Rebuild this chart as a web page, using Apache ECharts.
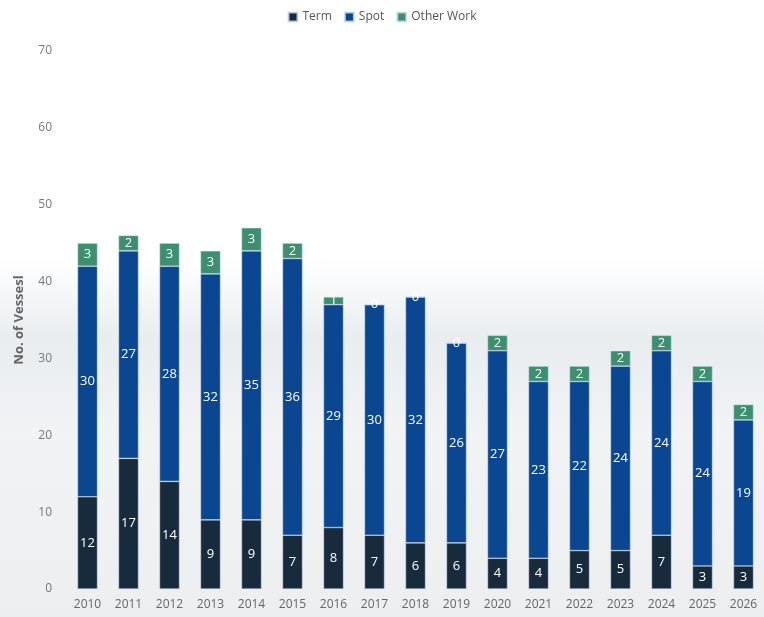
<!DOCTYPE html>
<html>
<head>
<meta charset="utf-8">
<script src="https://cdn.jsdelivr.net/npm/echarts@6/dist/echarts.min.js"></script>
<style>
  html, body { margin: 0; padding: 0; background: #ffffff; }
  #chart { width: 764px; height: 617px; }
</style>
</head>
<body>
<div id="chart"></div>
<script>
// Vessel counts per year, split by contract type
const years = ['2010','2011','2012','2013','2014','2015','2016','2017','2018','2019','2020','2021','2022','2023','2024','2025','2026'];
const termVessels  = [12, 17, 14, 9, 9, 7, 8, 7, 6, 6, 4, 4, 5, 5, 7, 3, 3];
const spotVessels  = [30, 27, 28, 32, 35, 36, 29, 30, 32, 26, 27, 23, 22, 24, 24, 24, 19];
const otherVessels = [3, 2, 3, 3, 3, 2, 1, 0, 0, 0, 2, 2, 2, 2, 2, 2, 2];
const yTicks = [0, 10, 20, 30, 40, 50, 60, 70];

const chart = echarts.init(document.getElementById('chart'), null, { renderer: 'canvas' });

const segLabel = {
  show: true,
  position: 'inside',
  color: '#ffffff',
  fontFamily: 'Open Sans',
  fontSize: 13,
  fontWeight: 'normal'
};

function barSeries(name, data, color) {
  return {
    name: name,
    type: 'bar',
    stack: 'vessels',
    data: data,
    barWidth: 20,
    itemStyle: { color: color, borderColor: 'rgba(200,220,240,0.8)', borderWidth: 0.6 },
    label: segLabel
  };
}

chart.setOption({
  backgroundColor: {
    type: 'linear', x: 0, y: 0, x2: 0, y2: 1,
    colorStops: [
      { offset: 0, color: '#ffffff' },
      { offset: 0.42, color: '#ffffff' },
      { offset: 0.55, color: '#e9edf0' },
      { offset: 0.7, color: '#f1f3f4' },
      { offset: 1, color: '#eceef0' }
    ]
  },
  textStyle: { fontFamily: 'Open Sans' },
  legend: {
    top: 6,
    left: 'center',
    itemWidth: 9,
    itemHeight: 9,
    itemGap: 12,
    icon: 'rect',
    textStyle: { color: '#555', fontSize: 12, fontFamily: 'Open Sans' },
    data: ['Term', 'Spot', 'Other Work']
  },
  grid: { left: 67, right: -1, top: 51, bottom: 28, containLabel: false },
  xAxis: {
    type: 'category',
    data: years,
    axisLine: { show: false },
    axisTick: { show: false },
    axisLabel: { color: '#666', fontSize: 12, margin: 10, interval: 0 }
  },
  yAxis: {
    type: 'value',
    min: yTicks[0],
    max: yTicks[yTicks.length - 1],
    interval: 10,
    name: 'No. of Vessesl',
    nameLocation: 'middle',
    nameGap: 41,
    nameRotate: 90,
    nameTextStyle: { color: '#666', fontSize: 13, fontWeight: 'bold' },
    axisLine: { show: false },
    axisTick: { show: false },
    splitLine: { show: false },
    axisLabel: { color: '#777', fontSize: 12, margin: 15 }
  },
  series: [
    barSeries('Term', termVessels, '#172b3d'),
    barSeries('Spot', spotVessels, '#0b4690'),
    barSeries('Other Work', otherVessels, '#3e8f70')
  ]
});
</script>
</body>
</html>
